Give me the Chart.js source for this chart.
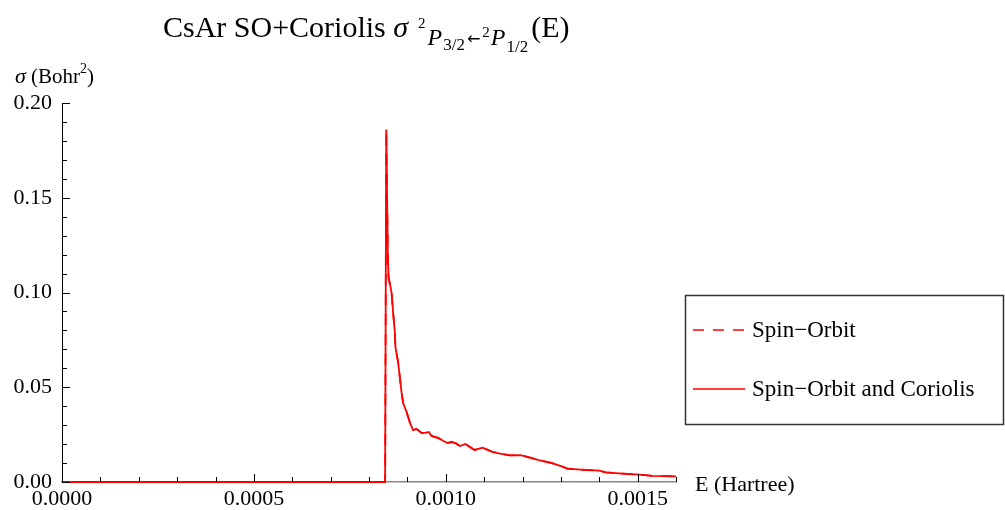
<!DOCTYPE html>
<html>
<head>
<meta charset="utf-8">
<script src="https://cdn.jsdelivr.net/npm/chart.js@4.4.0/dist/chart.umd.min.js"></script>
<style>
  html, body { margin: 0; padding: 0; background: #fff; }
  #wrap { position: relative; width: 1005px; height: 510px; }
</style>
</head>
<body>
<div id="wrap"><canvas id="sigmaChart"></canvas></div>
<script>
// Energy grid (Hartree)
var energy = [0, 0.0004, 0.000842, 0.000845, 0.000849, 0.000851, 0.000855, 0.000859, 0.000863, 0.000867,
    0.000869, 0.000876, 0.000885, 0.000889, 0.000898, 0.000907, 0.000915, 0.000924, 0.000937, 0.000946,
    0.000956, 0.000963, 0.000981, 0.000994, 0.001005, 0.001016, 0.001029, 0.001037, 0.001051, 0.001075,
    0.001096, 0.00112, 0.001138, 0.001168, 0.001195, 0.001217, 0.001243, 0.001277, 0.001304, 0.001317,
    0.001352, 0.0014, 0.001417, 0.001461, 0.001504, 0.001539, 0.0016];

// Cross section (Bohr^2), spin-orbit and Coriolis
var sigmaCoriolis = [0, 0, 0, 0.186, 0.12, 0.108, 0.104, 0.0997, 0.089, 0.080,
    0.071, 0.063, 0.047, 0.0417, 0.0369, 0.0311, 0.0274, 0.028, 0.0259, 0.0259,
    0.0264, 0.0243, 0.0232, 0.0216, 0.0206, 0.0211, 0.0201, 0.019, 0.0201, 0.0169,
    0.0181, 0.016, 0.0151, 0.0141, 0.0142, 0.013, 0.0115, 0.0099, 0.0081, 0.007,
    0.0065, 0.006, 0.0051, 0.0044, 0.0039, 0.0032, 0.003];

// Spin-orbit only curve lies on top of the other one in the picture
var sigmaSpinOrbit = sigmaCoriolis;

var seriesLabels = ['Spin\u2212Orbit', 'Spin\u2212Orbit and Coriolis'];
var xTickLabels = ['0.0000', '0.0005', '0.0010', '0.0015'];
var yTickLabels = ['0.00', '0.05', '0.10', '0.15', '0.20'];

var serif = '"Liberation Serif", "DejaVu Serif", serif';

function toPoints(xs, ys) {
    return xs.map(function (x, i) { return { x: x, y: ys[i] }; });
}

function isMajor(v, step) {
    var r = v / step;
    return Math.abs(r - Math.round(r)) < 1e-6;
}

// inward tick marks, axis titles, main title and the boxed legend
var decorPlugin = {
    id: 'decor',
    afterDatasetsDraw: function (chart) {
        var ctx = chart.ctx;
        var xs = chart.scales.x, ys = chart.scales.y;
        var area = chart.chartArea;
        ctx.save();
        ctx.strokeStyle = '#000';
        ctx.lineWidth = 1;
        xs.ticks.forEach(function (t) {
            var px = Math.round(xs.getPixelForValue(t.value)) + 0.5;
            var len = isMajor(t.value, 0.0005) ? 8 : 5;
            ctx.beginPath();
            ctx.moveTo(px, area.bottom);
            ctx.lineTo(px, area.bottom - len);
            ctx.stroke();
        });
        ys.ticks.forEach(function (t) {
            var py = Math.round(ys.getPixelForValue(t.value)) + 0.5;
            var len = isMajor(t.value, 0.05) ? 8 : 5;
            ctx.beginPath();
            ctx.moveTo(area.left, py);
            ctx.lineTo(area.left + len, py);
            ctx.stroke();
        });

        ctx.fillStyle = '#000';
        ctx.textBaseline = 'alphabetic';
        ctx.textAlign = 'left';

        // x axis title
        ctx.font = '22px ' + serif;
        ctx.fillText('E (Hartree)', 695, 491);

        // y axis title
        var x = 15;
        ctx.font = 'italic 22px ' + serif;
        ctx.fillText('\u03c3', x, 83);
        x += ctx.measureText('\u03c3').width;
        ctx.font = '21px ' + serif;
        ctx.fillText(' (Bohr', x, 83);
        x += ctx.measureText(' (Bohr').width;
        ctx.font = '14px ' + serif;
        ctx.fillText('2', x, 73);
        x += ctx.measureText('2').width;
        ctx.font = '21px ' + serif;
        ctx.fillText(')', x, 83);

        // title
        var parts = [
            { t: 'CsAr SO+Coriolis ', f: '30px ' + serif, y: 37, dx: 0 },
            { t: '\u03c3', f: 'italic 30px ' + serif, y: 37, dx: 0 },
            { t: '2', f: '15px ' + serif, y: 28, dx: 10 },
            { t: 'P', f: 'italic 24px ' + serif, y: 45, dx: 2 },
            { t: '3/2', f: '17px ' + serif, y: 50, dx: 1 },
            { t: '\u2190', f: '16px "DejaVu Sans", sans-serif', y: 44, dx: 2 },
            { t: '2', f: '15px ' + serif, y: 37, dx: 2 },
            { t: 'P', f: 'italic 24px ' + serif, y: 45, dx: 1 },
            { t: '1/2', f: '17px ' + serif, y: 52, dx: 1 },
            { t: '(E)', f: '30px ' + serif, y: 37, dx: 3 }
        ];
        x = 163;
        parts.forEach(function (p) {
            x += p.dx;
            ctx.font = p.f;
            ctx.fillText(p.t, x, p.y);
            x += ctx.measureText(p.t).width;
        });

        // legend box
        ctx.strokeStyle = '#333';
        ctx.lineWidth = 1.5;
        ctx.strokeRect(685.5, 295.5, 318, 129);
        var rows = [330, 389];
        chart.data.datasets.forEach(function (ds, i) {
            ctx.strokeStyle = ds.borderColor;
            ctx.lineWidth = 1.5;
            ctx.setLineDash(ds.borderDash || []);
            ctx.beginPath();
            ctx.moveTo(693, rows[i]);
            ctx.lineTo(745, rows[i]);
            ctx.stroke();
            ctx.setLineDash([]);
            ctx.fillStyle = '#000';
            ctx.font = '23px ' + serif;
            ctx.fillText(ds.label, 752, rows[i] + 7);
        });
        ctx.restore();
    }
};

document.addEventListener('DOMContentLoaded', function () {
    var ctx = document.getElementById('sigmaChart').getContext('2d');

    var sigmaChart = new Chart(ctx, {
        type: 'line',
        data: {
            datasets: [{
                label: seriesLabels[0],
                data: toPoints(energy, sigmaSpinOrbit),
                borderColor: '#ff0000',
                borderWidth: 1.8,
                borderDash: [11, 9],
                pointRadius: 0,
                tension: 0,
                clip: 4
            }, {
                label: seriesLabels[1],
                data: toPoints(energy, sigmaCoriolis),
                borderColor: '#ff0000',
                borderWidth: 1.8,
                pointRadius: 0,
                tension: 0,
                clip: 4
            }]
        },
        options: {
            responsive: true,
            maintainAspectRatio: false,
            animation: false,
            layout: { padding: { left: 0, right: 329, top: 103, bottom: 0 } },
            plugins: {
                legend: { display: false },
                tooltip: { enabled: false }
            },
            scales: {
                x: {
                    type: 'linear',
                    min: 0,
                    max: 0.0016,
                    afterFit: function (scale) { scale.height = 28; },
                    grid: { display: false, drawTicks: false },
                    border: { display: true, color: '#888', width: 1.5 },
                    ticks: {
                        stepSize: 0.0001,
                        autoSkip: false,
                        maxRotation: 0,
                        padding: 4,
                        color: '#000',
                        font: { family: serif, size: 22 },
                        callback: function (v) {
                            if (!isMajor(v, 0.0005)) return '';
                            return xTickLabels[Math.round(v / 0.0005)] || '';
                        }
                    }
                },
                y: {
                    min: 0,
                    max: 0.2,
                    afterFit: function (scale) { scale.width = 62; },
                    grid: { display: false, drawTicks: false },
                    border: { display: true, color: '#000', width: 1 },
                    ticks: {
                        stepSize: 0.01,
                        autoSkip: false,
                        padding: 10,
                        color: '#000',
                        font: { family: serif, size: 22 },
                        callback: function (v) {
                            if (!isMajor(v, 0.05)) return '';
                            return yTickLabels[Math.round(v / 0.05)] || '';
                        }
                    }
                }
            }
        },
        plugins: [decorPlugin]
    });
});
</script>
</body>
</html>
